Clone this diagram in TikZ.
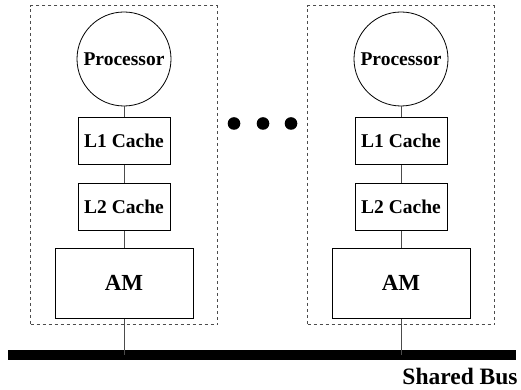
\documentclass[tikz,border=0pt]{standalone}
\usepackage{fontspec}
\setmainfont{Liberation Serif}
\usetikzlibrary{positioning,fit}
\tikzstyle{cpu} = [draw,circle,minimum size=94pt,inner sep=0pt,font=\fontsize{19.5}{22}\bfseries\selectfont]
\tikzstyle{cache} = [draw,rectangle,minimum width=92pt,minimum height=47pt,inner sep=0pt,font=\fontsize{19.5}{22}\bfseries\selectfont]
\tikzstyle{mem} = [draw,rectangle,minimum width=138pt,minimum height=70pt,inner sep=0pt,font=\fontsize{23}{26}\bfseries\selectfont]
\tikzstyle{edge} = [draw,line width=0.8pt,black!70]
\tikzstyle{node} = [draw,dashed,black!70,line width=0.8pt,inner xsep=24pt,inner ysep=6pt]

\begin{document}
\begin{tikzpicture}[x=1pt,y=1pt,line width=0.8pt]
    \useasboundingbox (0,0) rectangle (521,390);
    % first processing node
    \node[cpu] (p1) at (124,331) {Processor};
    \node[cache, below=11pt of p1] (l1a) {L1 Cache};
    \node[cache, below=18pt of l1a] (l2a) {L2 Cache};
    \node[mem, below=17pt of l2a] (am1) {AM};
    \node[node, fit=(p1) (am1)] (n1) {};
    % last processing node
    \node[cpu] (p2) at (401,331) {Processor};
    \node[cache, below=11pt of p2] (l1b) {L1 Cache};
    \node[cache, below=18pt of l1b] (l2b) {L2 Cache};
    \node[mem, below=17pt of l2b] (am2) {AM};
    \node[node, fit=(p2) (am2)] (n2) {};
    % dots in between
    \foreach \x in {234,263,291}
        \fill (\x,266.5) circle (6.3);
    % bus
    \coordinate (busl) at (8,35);
    \coordinate (busr) at (516,35);
    \draw[line width=10pt] (busl) -- (busr);
    \node[anchor=base east,inner sep=0pt,font=\fontsize{23.5}{26}\bfseries\selectfont] (bus) at (518,5) {Shared Bus};
    \path[edge] (p1) -- (l1a) (l1a) -- (l2a) (l2a) -- (am1)
        (am1.south) -- (am1.south |- busl);
    \path[edge] (p2) -- (l1b) (l1b) -- (l2b) (l2b) -- (am2)
        (am2.south) -- (am2.south |- busl);
\end{tikzpicture}
\end{document}
